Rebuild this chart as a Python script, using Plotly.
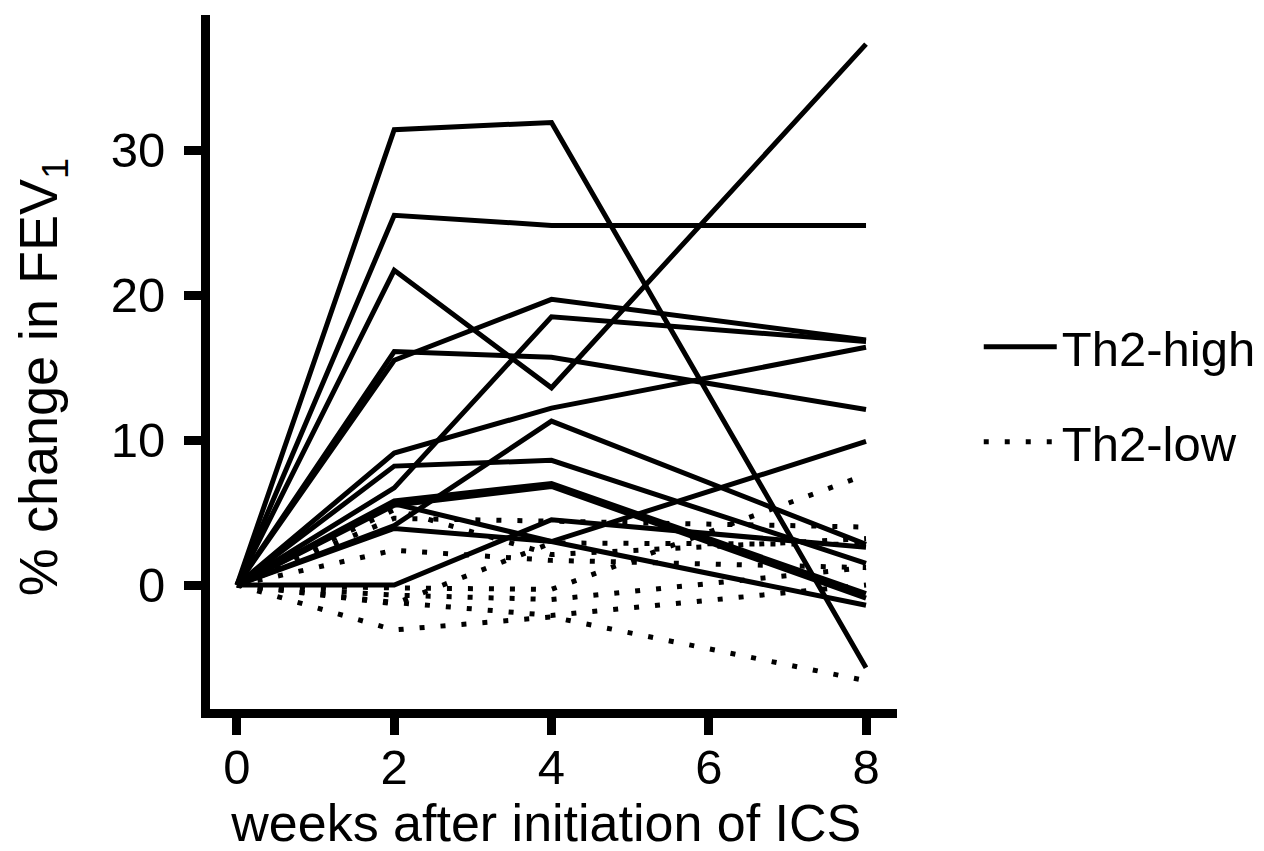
import plotly.graph_objects as go

# x positions (weeks after initiation of ICS)
weeks = [0, 2, 4, 8]

# Th2-high subjects: % change in FEV1 at weeks 0, 2, 4, 8
high_a = [0, 31.4, 31.9, -5.7]
high_b = [0, 25.5, 24.8, 24.8]
high_c = [0, 21.7, 13.6, 37.3]
high_d = [0, 15.5, 19.7, 16.9]
high_e = [0, 6.7, 18.5, 16.8]
high_f = [0, 16.1, 15.7, 12.1]
high_g = [0, 9.1, 12.2, 16.4]
high_h = [0, 8.2, 8.6, 1.5]
high_i = [0, 4.1, 11.3, 2.8]
high_j = [0, 0.0, 4.5, 2.6]
high_k = [0, 5.8, 7.0, -0.6]
high_l = [0, 5.5, 6.8, -0.9]
high_m = [0, 3.9, 3.0, 9.9]
high_n = [0, 5.6, 3.0, -1.4]

# Th2-low subjects
low_a = [0, 5.2, 2.1, 3.2]
low_b = [0, 4.6, 4.4, 4.0]
low_c = [0, 2.4, 1.7, 1.2]
low_d = [0, -0.2, -0.3, 7.6]
low_e = [0, -1.3, 2.9, 2.8]
low_f = [0, -0.7, -1.0, 1.2]
low_g = [0, -1.2, -2.1, 0.0]
low_h = [0, -3.1, -2.2, -6.6]

x_ticks = [0, 2, 4, 6, 8]
y_ticks = [0, 10, 20, 30]

high_series = [high_a, high_b, high_c, high_d, high_e, high_f, high_g,
               high_h, high_i, high_j, high_k, high_l, high_m, high_n]
low_series = [low_a, low_b, low_c, low_d, low_e, low_f, low_g, low_h]

FONT = "Liberation Sans, Arial, Helvetica, sans-serif"

fig = go.Figure()
for i, s in enumerate(high_series):
    fig.add_trace(go.Scatter(
        x=weeks, y=s, mode="lines",
        line=dict(color="black", width=5),
        name="Th2-high", legendgroup="high", showlegend=(i == 0),
        legend="legend", hoverinfo="skip"))
for i, s in enumerate(low_series):
    fig.add_trace(go.Scatter(
        x=weeks, y=s, mode="lines",
        line=dict(color="black", width=5, dash="5px,16px"),
        name="Th2-low", legendgroup="low", showlegend=(i == 0),
        legend="legend2", hoverinfo="skip"))

axis_common = dict(
    showline=True, linewidth=9, linecolor="black",
    ticks="outside", ticklen=17, tickwidth=9, tickcolor="black",
    showgrid=False, zeroline=False, automargin=False,
    tickfont=dict(family=FONT, size=49, color="black"),
)

# the page adds an 8px body margin, so the figure is offset by (8, 8)
fig.update_layout(
    width=1264, height=851,
    margin=dict(l=202, r=375, t=7, b=150, autoexpand=False),
    paper_bgcolor="white", plot_bgcolor="white",
    font=dict(family=FONT, size=48, color="black"),
    xaxis=dict(range=[-0.343, 8.394], tickvals=x_ticks,
               ticklabelstandoff=-10,
               title=dict(text="weeks after initiation of ICS&nbsp;",
                          font=dict(family=FONT, size=52), standoff=0),
               **axis_common),
    yaxis=dict(range=[-8.55, 39.31], tickvals=y_ticks,
               ticklabelstandoff=9,
               title=dict(text="% change in FEV<sub>1</sub>&nbsp;&nbsp;",
                          font=dict(family=FONT, size=54), standoff=68),
               **axis_common),
    legend=dict(x=1.119, y=0.5216, xanchor="left", yanchor="middle",
                font=dict(family=FONT, size=49), itemwidth=73,
                bgcolor="rgba(0,0,0,0)"),
    legend2=dict(x=1.119, y=0.3847, xanchor="left", yanchor="middle",
                 font=dict(family=FONT, size=49), itemwidth=73,
                 bgcolor="rgba(0,0,0,0)"),
)

fig.write_html("out.html")
